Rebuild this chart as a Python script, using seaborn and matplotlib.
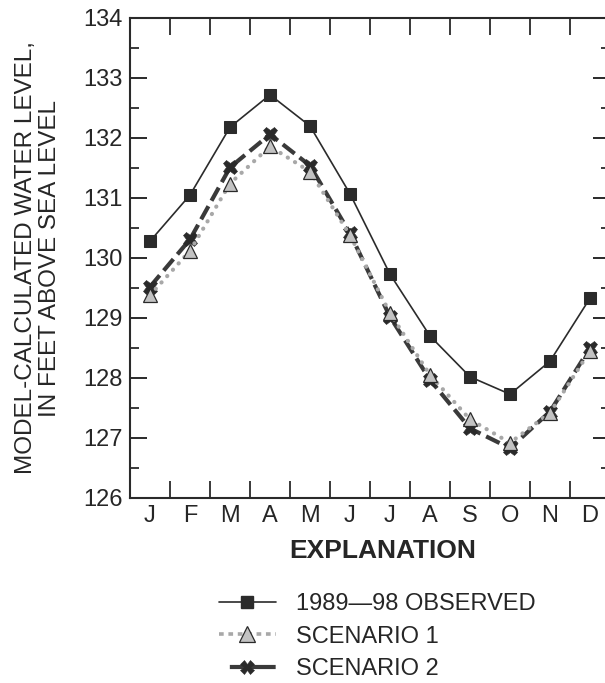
import matplotlib
matplotlib.use("Agg")
import matplotlib.pyplot as plt
from matplotlib import font_manager
from matplotlib.lines import Line2D
from matplotlib.ticker import MultipleLocator, FixedLocator
import numpy as np
import pandas as pd
import seaborn as sns

months = ["J", "F", "M", "A", "M", "J", "J", "A", "S", "O", "N", "D"]
observed = [130.28, 131.05, 132.18, 132.72, 132.20, 131.07, 129.73, 128.70, 128.02, 127.73, 128.28, 129.33]
scenario1 = [129.38, 130.12, 131.24, 131.86, 131.44, 130.38, 129.08, 128.05, 127.31, 126.92, 127.42, 128.45]
scenario2 = [129.52, 130.31, 131.51, 132.06, 131.54, 130.41, 129.02, 127.97, 127.16, 126.83, 127.44, 128.50]
series_labels = ["1989\u201498 OBSERVED", "SCENARIO 1", "SCENARIO 2"]
y_label = "MODEL-CALCULATED WATER LEVEL,\nIN FEET ABOVE SEA LEVEL"

sns.set_style("white")
plt.rcParams["font.family"] = ["Liberation Sans", "DejaVu Sans"]

# a condensed face for the tall axis title, if one is installed
installed = {f.name for f in font_manager.fontManager.ttflist}
if "Liberation Sans Narrow" in installed:
    ylab_font, ylab_size = ["Liberation Sans Narrow", "Liberation Sans"], 21
else:
    ylab_font, ylab_size = ["Liberation Sans", "DejaVu Sans"], 17.5

x = np.arange(len(months))
df = pd.DataFrame({"month": x, "observed": observed, "s1": scenario1, "s2": scenario2})

fig = plt.figure(figsize=(6.05, 6.83), dpi=100)
ax = fig.add_axes([130 / 605, (683 - 498) / 683, 480 / 605, 480 / 683])

dark = "#2b2b2b"
s2_kw = dict(color="#3a3a3a", linewidth=3.0, linestyle=(0, (3.6, 1.5)), marker="X",
             markersize=10.5, markerfacecolor="#2a2a2a", markeredgecolor="#2a2a2a",
             markeredgewidth=0.4)
s1_kw = dict(color="#a8a8a8", linewidth=3.0, linestyle=(0, (0.05, 2.0)), dash_capstyle="round",
             marker="^", markersize=10, markerfacecolor="#c2c2c2", markeredgecolor="#2a2a2a",
             markeredgewidth=0.9)
obs_kw = dict(color=dark, linewidth=1.2, marker="s", markersize=8.6,
              markerfacecolor=dark, markeredgecolor=dark)

sns.lineplot(data=df, x="month", y="s2", ax=ax, **s2_kw)
sns.lineplot(data=df, x="month", y="s1", ax=ax, **s1_kw)
sns.lineplot(data=df, x="month", y="observed", ax=ax, **obs_kw)

ax.set_xlim(-0.5, 11.5)
ax.set_ylim(126, 134)
ax.set_xlabel("")
ax.set_ylabel("")
fig.text(38 / 605, 1 - 258 / 683, y_label, rotation=90, ha="center", va="center",
         multialignment="center", fontsize=ylab_size, family=ylab_font, linespacing=1.1)

for s in ax.spines.values():
    s.set_linewidth(1.5)
    s.set_color("#2a2a2a")

ax.yaxis.set_major_locator(MultipleLocator(1))
ax.yaxis.set_minor_locator(MultipleLocator(0.5))
ax.xaxis.set_major_locator(FixedLocator(x))
ax.xaxis.set_minor_locator(FixedLocator(np.arange(0.5, 11.5, 1)))
ax.set_xticklabels(months)

ax.tick_params(axis="y", which="major", direction="in", length=12, width=1.4,
               left=True, right=True, labelsize=17, pad=5, color="#2a2a2a")
ax.tick_params(axis="y", which="minor", direction="in", length=6.3, width=1.3,
               left=True, right=True, color="#2a2a2a")
ax.tick_params(axis="x", which="major", length=0, labelsize=17, pad=5)
ax.tick_params(axis="x", which="minor", direction="in", length=12, width=1.3,
               bottom=True, top=True, color="#2a2a2a")

fig.text(383 / 605, 1 - 551 / 683, "EXPLANATION", ha="center", va="center",
         fontsize=19, fontweight="bold")

# legend keys: short dashes for scenario 1, a dash either side of the cross for scenario 2
handles = [
    Line2D([], [], **{**obs_kw, "markersize": 8}),
    Line2D([], [], **{**s1_kw, "markersize": 11, "linestyle": (0, (1.3, 1.3)),
                      "dash_capstyle": "butt", "linewidth": 2.6}),
    Line2D([], [], **{**s2_kw, "markersize": 10, "linestyle": (11.0, (11.0, 2.6))}),
]
fig.legend(handles, series_labels, loc="upper left", bbox_to_anchor=(219 / 605, 1 - 593 / 683),
           frameon=False, fontsize=17, handlelength=2.4, handletextpad=0.85,
           labelspacing=0.45, borderaxespad=0, borderpad=0)

fig.savefig("out.png", dpi=100)
